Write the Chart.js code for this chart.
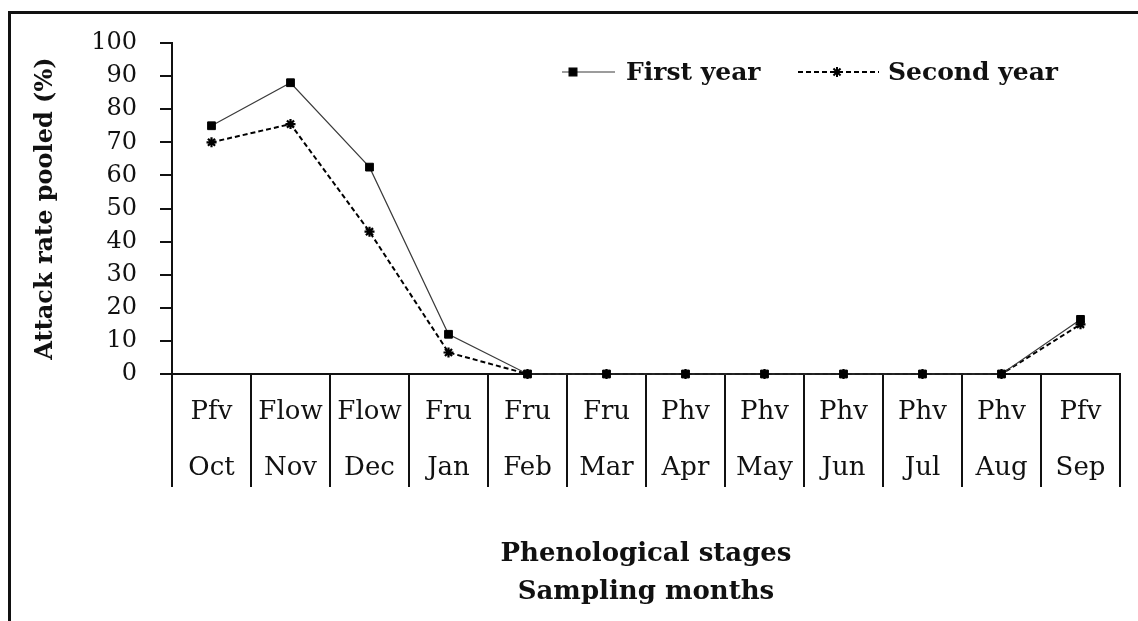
<!DOCTYPE html>
<html>
<head>
<meta charset="utf-8">
<script src="https://cdn.jsdelivr.net/npm/chart.js@4.4.1/dist/chart.umd.min.js"></script>
<style>
  html, body { margin: 0; padding: 0; background: #fff; }
  #wrap { position: relative; width: 1138px; height: 621px; }
  canvas { display: block; }
</style>
</head>
<body>
<div id="wrap"><canvas id="c" width="1138" height="621"></canvas></div>
<script>
const stages = ['Pfv', 'Flow', 'Flow', 'Fru', 'Fru', 'Fru', 'Phv', 'Phv', 'Phv', 'Phv', 'Phv', 'Pfv'];
const months = ['Oct', 'Nov', 'Dec', 'Jan', 'Feb', 'Mar', 'Apr', 'May', 'Jun', 'Jul', 'Aug', 'Sep'];
const firstYear = [75, 88, 62.5, 12, 0, 0, 0, 0, 0, 0, 0, 16.5];
const secondYear = [70, 75.5, 43, 6.5, 0, 0, 0, 0, 0, 0, 0, 15];
const seriesNames = ['First year', 'Second year'];
const yTitle = 'Attack rate pooled (%)';
const xTitle = ['Phenological stages', 'Sampling months'];

const SERIF = "'DejaVu Serif', 'Liberation Serif', serif";
const labels = stages.map((s, i) => [s, months[i]]);

const framePlugin = {
  id: 'frame',
  afterDraw(chart) {
    const ctx = chart.ctx;
    ctx.save();
    ctx.fillStyle = '#111';
    ctx.fillRect(8, 11, 1130, 3);
    ctx.fillRect(8, 11, 3, 610);
    ctx.restore();
  }
};

const legendPlugin = {
  id: 'customLegend',
  afterDraw(chart) {
    const ctx = chart.ctx;
    const items = [
      { ds: 0, x0: 562, x1: 615, mx: 573, tx: 626 },
      { ds: 1, x0: 798, x1: 879, mx: 837, tx: 888 }
    ];
    const y = 72;
    ctx.save();
    items.forEach(it => {
      const ds = chart.data.datasets[it.ds];
      ctx.beginPath();
      ctx.strokeStyle = ds.borderColor;
      ctx.lineWidth = ds.borderWidth;
      ctx.setLineDash(ds.borderDash || []);
      ctx.moveTo(it.x0, y);
      ctx.lineTo(it.x1, y);
      ctx.stroke();
      ctx.setLineDash([]);
      ctx.fillStyle = '#000';
      ctx.strokeStyle = '#000';
      Chart.helpers.drawPoint(ctx, {
        pointStyle: ds.pointStyle,
        radius: ds.pointRadius,
        borderWidth: ds.pointBorderWidth
      }, it.mx, y);
      ctx.fillStyle = '#111';
      ctx.font = "bold 25px " + SERIF;
      ctx.textBaseline = 'middle';
      ctx.textAlign = 'left';
      ctx.fillText(ds.label, it.tx, y + 1);
    });
    ctx.restore();
  }
};

new Chart(document.getElementById('c'), {
  type: 'line',
  data: {
    labels: labels,
    datasets: [
      {
        label: seriesNames[0],
        data: firstYear,
        borderColor: '#3a3a3a',
        borderWidth: 1.2,
        pointStyle: 'rect',
        pointRadius: 5.5,
        pointBorderWidth: 1,
        pointBackgroundColor: '#000',
        pointBorderColor: '#000',
        tension: 0,
        clip: false
      },
      {
        label: seriesNames[1],
        data: secondYear,
        borderColor: '#000',
        borderWidth: 2,
        borderDash: [5, 3],
        pointStyle: 'star',
        pointRadius: 5,
        pointBorderWidth: 2.2,
        pointBackgroundColor: '#000',
        pointBorderColor: '#000',
        tension: 0,
        clip: false
      }
    ]
  },
  options: {
    responsive: false,
    animation: false,
    events: [],
    layout: { padding: { left: 0, right: 18, top: 43, bottom: 0 } },
    plugins: {
      legend: { display: false },
      tooltip: { enabled: false }
    },
    scales: {
      x: {
        type: 'category',
        offset: true,
        grid: {
          offset: true,
          drawOnChartArea: false,
          drawTicks: true,
          tickLength: 113,
          color: '#111',
          lineWidth: 2
        },
        border: { display: true, color: '#111', width: 2 },
        ticks: {
          color: '#111',
          padding: -103,
          maxRotation: 0,
          autoSkip: false,
          font: { family: SERIF, size: 26, lineHeight: 56 / 26 }
        },
        title: {
          display: true,
          text: xTitle,
          color: '#111',
          font: { family: SERIF, size: 26, weight: 'bold', lineHeight: 38 / 26 },
          padding: { top: 0, bottom: 10 }
        },
        afterFit(scale) { scale.height = 247; }
      },
      y: {
        min: 0,
        max: 100,
        ticks: {
          stepSize: 10,
          color: '#111',
          padding: 23,
          font: { family: SERIF, size: 24 }
        },
        grid: {
          drawOnChartArea: false,
          drawTicks: true,
          tickLength: 12,
          color: '#111',
          lineWidth: 2
        },
        border: { display: true, color: '#111', width: 2 },
        title: {
          display: true,
          text: yTitle,
          color: '#111',
          font: { family: SERIF, size: 24, weight: 'bold', lineHeight: 1.2 },
          padding: { top: 31, bottom: 0 }
        },
        afterFit(scale) { scale.width = 172; }
      }
    }
  },
  plugins: [framePlugin, legendPlugin]
});
</script>
</body>
</html>
